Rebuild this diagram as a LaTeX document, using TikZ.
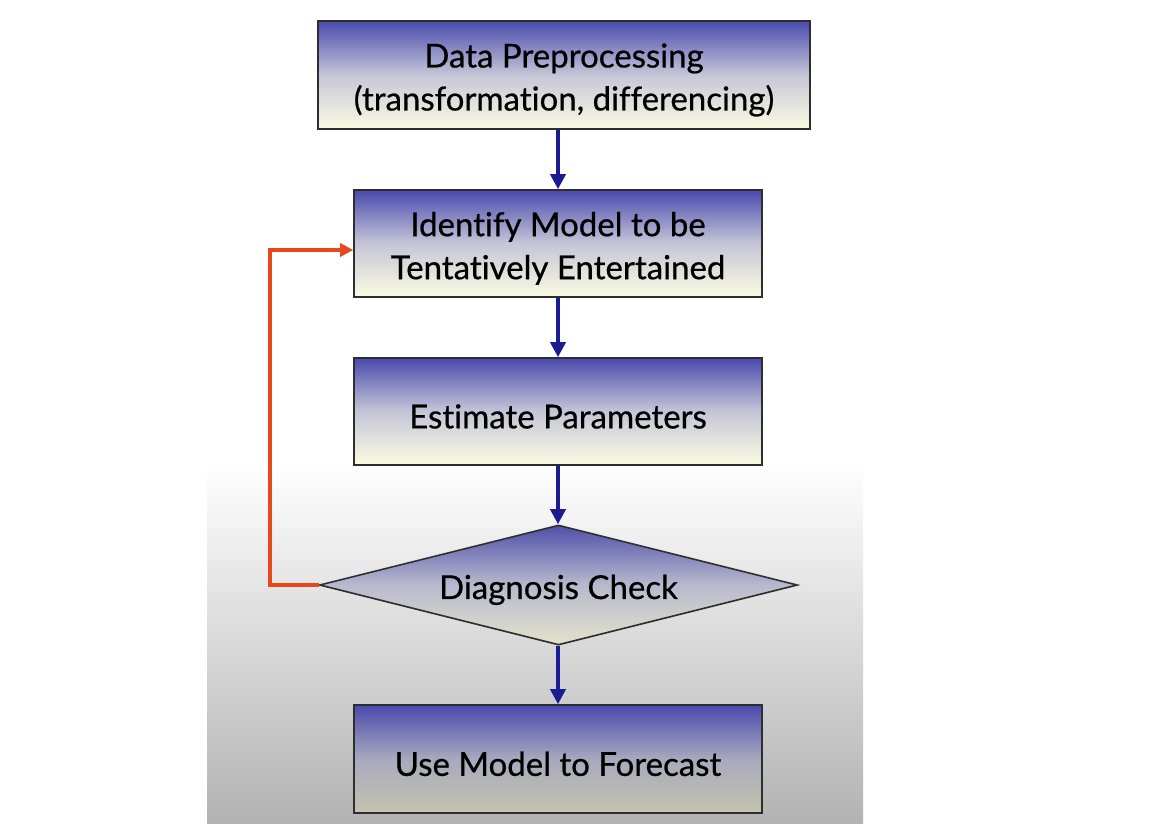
\documentclass[tikz,border=0pt]{standalone}
\usepackage{fontspec}
\setmainfont{Lato}[Ligatures=NoCommon, RawFeature=-liga, FakeBold=0.6]
\usetikzlibrary{shapes.geometric,arrows.meta,calc}
\definecolor{boxblue}{HTML}{4A4AAE}
\definecolor{boxmid}{HTML}{C6C6D8}
\definecolor{boxcream}{HTML}{FBFBE2}
\definecolor{lowmid}{HTML}{A9A9BE}
\definecolor{lowcream}{HTML}{C4C4AE}
\definecolor{diamid}{HTML}{B9B9CE}
\definecolor{diacream}{HTML}{E2E2CC}
\definecolor{arrblue}{HTML}{1C1C92}
\definecolor{loopred}{HTML}{E8481C}
\definecolor{edgegray}{HTML}{2E2E2E}
\newcommand{\lowr}{\rule{0pt}{34pt}}
\begin{document}
\begin{tikzpicture}[x=1pt,y=-1pt,
  procbox/.style={draw=edgegray, line width=1.6pt, rectangle, inner sep=0pt,
    top color=boxblue, bottom color=boxcream, middle color=boxmid,
    align=center, font=\fontsize{33}{43}\selectfont, text=black},
  lowbox/.style={procbox, top color=boxblue, bottom color=lowcream, middle color=lowmid},
  decide/.style={draw=edgegray, line width=1.6pt, diamond, aspect=3.98, inner sep=0pt,
    minimum width=478pt, minimum height=120pt,
    top color=boxblue!90!gray, bottom color=diacream, middle color=diamid,
    font=\fontsize{33}{43}\selectfont},
  flow/.style={draw=arrblue, line width=3.6pt, -{Triangle[length=15pt,width=15pt]}},
  loop/.style={draw=loopred, line width=3.6pt, -{Triangle[length=13pt,width=13pt]}}
]
\useasboundingbox (0,0) rectangle (1152,823);
\fill[white] (0,0) rectangle (1152,823);
\shade[top color=white, bottom color=black!30] (207,463) rectangle (863,823);

\node[procbox, minimum width=492pt, minimum height=108pt] (prep) at (564,75)
  {\lowr Data Preprocessing\\(transformation, differencing)};
\node[procbox, minimum width=408pt, minimum height=107pt] (ident) at (558,243.5)
  {\lowr Identify Model to be\\Tentatively Entertained};
\node[procbox, minimum width=408pt, minimum height=107pt] (est) at (558,411.5)
  {\lowr Estimate Parameters};
\node[decide] (diag) at (558.5,585) {\lowr Diagnosis Check};
\node[lowbox, minimum width=408pt, minimum height=108pt] (fore) at (558,759)
  {\lowr Use Model to Forecast};

\draw[flow] (prep.south -| ident.north) -- (ident.north);
\draw[flow] (ident.south) -- (est.north);
\draw[flow] (est.south) -- (est.south |- diag.north);
\draw[flow] (diag.south -| fore.north) -- (fore.north);

\coordinate (loopc) at (270,250);
\draw[loop] (diag.west) -| (loopc) -- (ident.west |- loopc);
\end{tikzpicture}
\end{document}
